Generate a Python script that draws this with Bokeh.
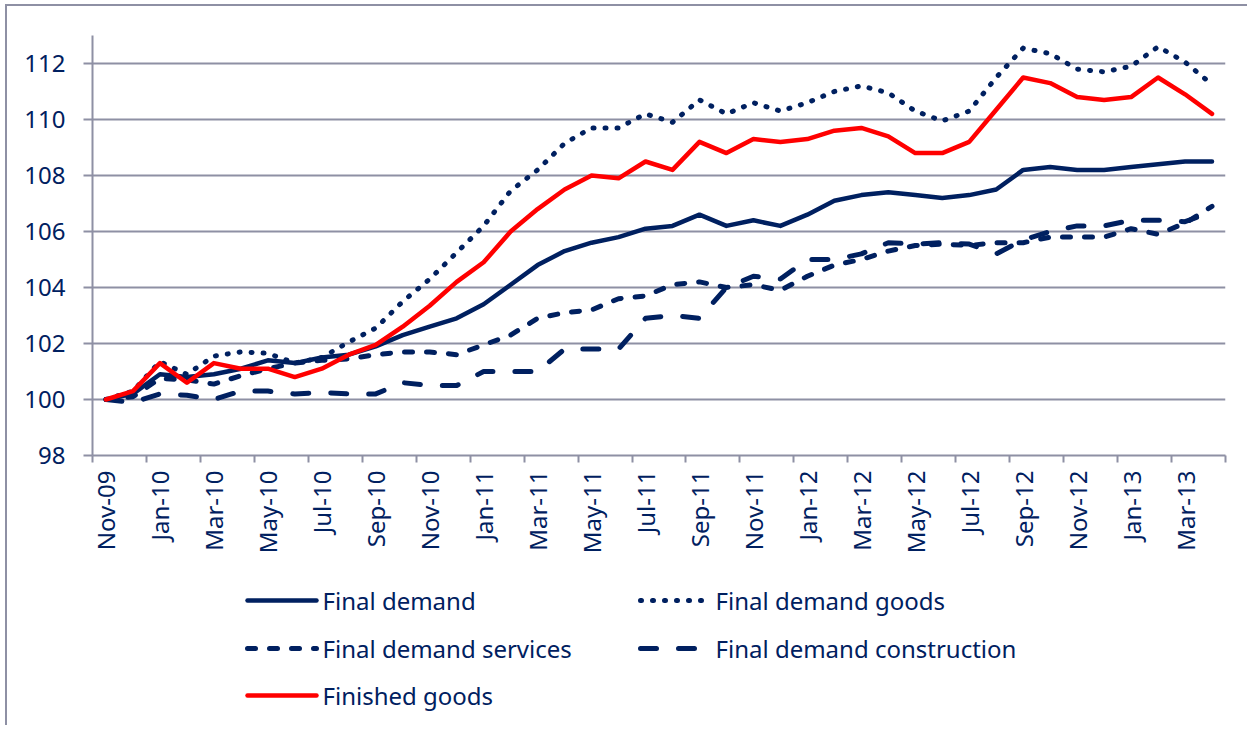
import math
from bokeh.plotting import figure
from bokeh.models import FixedTicker, Range1d
from bokeh.layouts import column
from bokeh.core.properties import value
from bokeh.embed import file_html
from bokeh.resources import INLINE

months = ["Nov-09", "Dec-09",
          "Jan-10", "Feb-10", "Mar-10", "Apr-10", "May-10", "Jun-10",
          "Jul-10", "Aug-10", "Sep-10", "Oct-10", "Nov-10", "Dec-10",
          "Jan-11", "Feb-11", "Mar-11", "Apr-11", "May-11", "Jun-11",
          "Jul-11", "Aug-11", "Sep-11", "Oct-11", "Nov-11", "Dec-11",
          "Jan-12", "Feb-12", "Mar-12", "Apr-12", "May-12", "Jun-12",
          "Jul-12", "Aug-12", "Sep-12", "Oct-12", "Nov-12", "Dec-12",
          "Jan-13", "Feb-13", "Mar-13", "Apr-13"]

final_demand = [100.0, 100.2, 100.9, 100.8, 100.9, 101.1, 101.4, 101.3, 101.5, 101.6,
                101.9, 102.3, 102.6, 102.9, 103.4, 104.1, 104.8, 105.3, 105.6, 105.8,
                106.1, 106.2, 106.6, 106.2, 106.4, 106.2, 106.6, 107.1, 107.3, 107.4,
                107.3, 107.2, 107.3, 107.5, 108.2, 108.3, 108.2, 108.2, 108.3, 108.4,
                108.5, 108.5]

final_goods = [100.0, 100.3, 101.35, 100.9, 101.55, 101.7, 101.65, 101.3, 101.5, 102.05,
               102.55, 103.5, 104.3, 105.25, 106.2, 107.45, 108.2, 109.15, 109.7, 109.7,
               110.2, 109.9, 110.7, 110.2, 110.6, 110.3, 110.6, 111.0, 111.2, 110.95,
               110.3, 109.95, 110.3, 111.5, 112.55, 112.35, 111.8, 111.7, 111.9, 112.6,
               112.05, 111.25]

final_services = [100.0, 100.1, 100.75, 100.7, 100.55, 100.85, 101.1, 101.3, 101.4, 101.45,
                  101.6, 101.7, 101.7, 101.6, 101.95, 102.3, 102.9, 103.1, 103.2, 103.6,
                  103.7, 104.1, 104.2, 104.0, 104.1, 103.9, 104.4, 104.8, 105.0, 105.3,
                  105.5, 105.55, 105.5, 105.6, 105.6, 105.8, 105.8, 105.8, 106.1, 105.9,
                  106.3, 106.9]

final_construction = [100.0, 99.9, 100.2, 100.15, 100.0, 100.3, 100.3, 100.2, 100.25, 100.2,
                      100.2, 100.6, 100.5, 100.5, 101.0, 101.0, 101.0, 101.8, 101.8, 101.8,
                      102.9, 103.0, 102.9, 104.0, 104.4, 104.3, 105.0, 105.0, 105.2, 105.6,
                      105.55, 105.6, 105.55, 105.2, 105.7, 106.0, 106.2, 106.2, 106.4, 106.4,
                      106.35, 106.7]

finished_goods = [100.0, 100.3, 101.3, 100.6, 101.3, 101.1, 101.1, 100.8, 101.1, 101.6,
                  101.95, 102.6, 103.35, 104.2, 104.9, 106.0, 106.8, 107.5, 108.0, 107.9,
                  108.5, 108.2, 109.2, 108.8, 109.3, 109.2, 109.3, 109.6, 109.7, 109.4,
                  108.8, 108.8, 109.2, 110.35, 111.5, 111.3, 110.8, 110.7, 110.8, 111.5,
                  110.9, 110.2]

series_labels = ["Final demand", "Final demand goods", "Final demand services",
                 "Final demand construction", "Finished goods"]

y_ticks = [98, 100, 102, 104, 106, 108, 110, 112]

NAVY = "#002060"
RED = "#FF0000"
GRID = "#8E90A4"
FONT = "Noto Sans"

styles = [
    dict(line_color=NAVY, line_width=4.5, line_dash="solid"),
    dict(line_color=NAVY, line_width=5, line_dash="1 11"),
    dict(line_color=NAVY, line_width=5, line_dash="8 14"),
    dict(line_color=NAVY, line_width=5, line_dash="16 22"),
    dict(line_color=RED, line_width=4.5, line_dash="solid"),
]
series = [final_demand, final_goods, final_services, final_construction, finished_goods]

x = list(range(len(months)))

W = 1240
p = figure(width=W, height=559, output_backend="svg", toolbar_location=None,
           x_range=(-0.5, len(months) - 0.5), y_range=(98, 113),
           min_border_left=85, min_border_right=22, min_border_top=29,
           min_border_bottom=110)
p.outline_line_color = None
p.background_fill_color = "white"
p.border_fill_color = "white"

label_pos = list(range(0, len(months), 2))
boundaries = [i - 0.5 for i in range(0, len(months) + 1, 2)]
xa = p.xaxis[0]
xa.ticker = FixedTicker(ticks=label_pos, minor_ticks=boundaries)
xa.major_label_overrides = {i: months[i] for i in label_pos}
xa.major_label_orientation = math.pi / 2
xa.major_tick_line_color = None
xa.major_tick_out = 7
xa.major_tick_in = 0
xa.minor_tick_line_color = GRID
xa.minor_tick_line_width = 2
xa.minor_tick_out = 7
xa.minor_tick_in = 0
xa.major_label_standoff = 8
xa.axis_line_color = GRID
xa.axis_line_width = 2
xa.major_label_text_font = FONT
xa.major_label_text_font_size = "24px"
xa.major_label_text_color = NAVY

ya = p.yaxis[0]
ya.ticker = FixedTicker(ticks=y_ticks)
ya.major_tick_out = 9
ya.major_tick_in = 0
ya.major_tick_line_color = GRID
ya.major_tick_line_width = 2
ya.minor_tick_line_color = None
ya.axis_line_color = GRID
ya.axis_line_width = 2
ya.major_label_standoff = 18
ya.major_label_text_font = FONT
ya.major_label_text_font_size = "24px"
ya.major_label_text_color = NAVY

p.xgrid.grid_line_color = None
p.ygrid.ticker = FixedTicker(ticks=y_ticks)
p.ygrid.grid_line_color = GRID
p.ygrid.grid_line_width = 2

for vals, st in zip(series, styles):
    p.line(x, vals, line_cap="round", line_join="round", **st)

# legend panel: its frame is aligned with the chart frame (page x 92..1225)
LH = 160
leg = figure(width=W, height=LH, output_backend="svg", toolbar_location=None,
             x_range=Range1d(92, 1225), y_range=Range1d(LH, 0),
             x_axis_type=None, y_axis_type=None,
             min_border_left=85, min_border_right=22, min_border_top=0, min_border_bottom=0)
leg.outline_line_color = None
leg.xgrid.grid_line_color = None
leg.ygrid.grid_line_color = None
leg.background_fill_color = "white"
leg.border_fill_color = "white"

col_x = [245, 638]
row_y = [35, 83, 130]
glyph_w = 73
for k, (lab, st) in enumerate(zip(series_labels, styles)):
    cx = col_x[k % 2]
    ry = row_y[k // 2]
    leg.line([cx + 2, cx + glyph_w - 2], [ry, ry], line_cap="round", **st)
    leg.text([cx + glyph_w + 4], [ry], text=[lab], text_font=value(FONT),
             text_font_size="24px", text_color=NAVY, text_baseline="middle",
             text_align="left")

layout = column(p, leg, spacing=0)
layout.styles = {"border-left": "2px solid " + GRID, "border-top": "2px solid " + GRID,
                 "margin-left": "5px", "margin-top": "4px"}

open("out.html", "w").write(file_html(layout, INLINE))
